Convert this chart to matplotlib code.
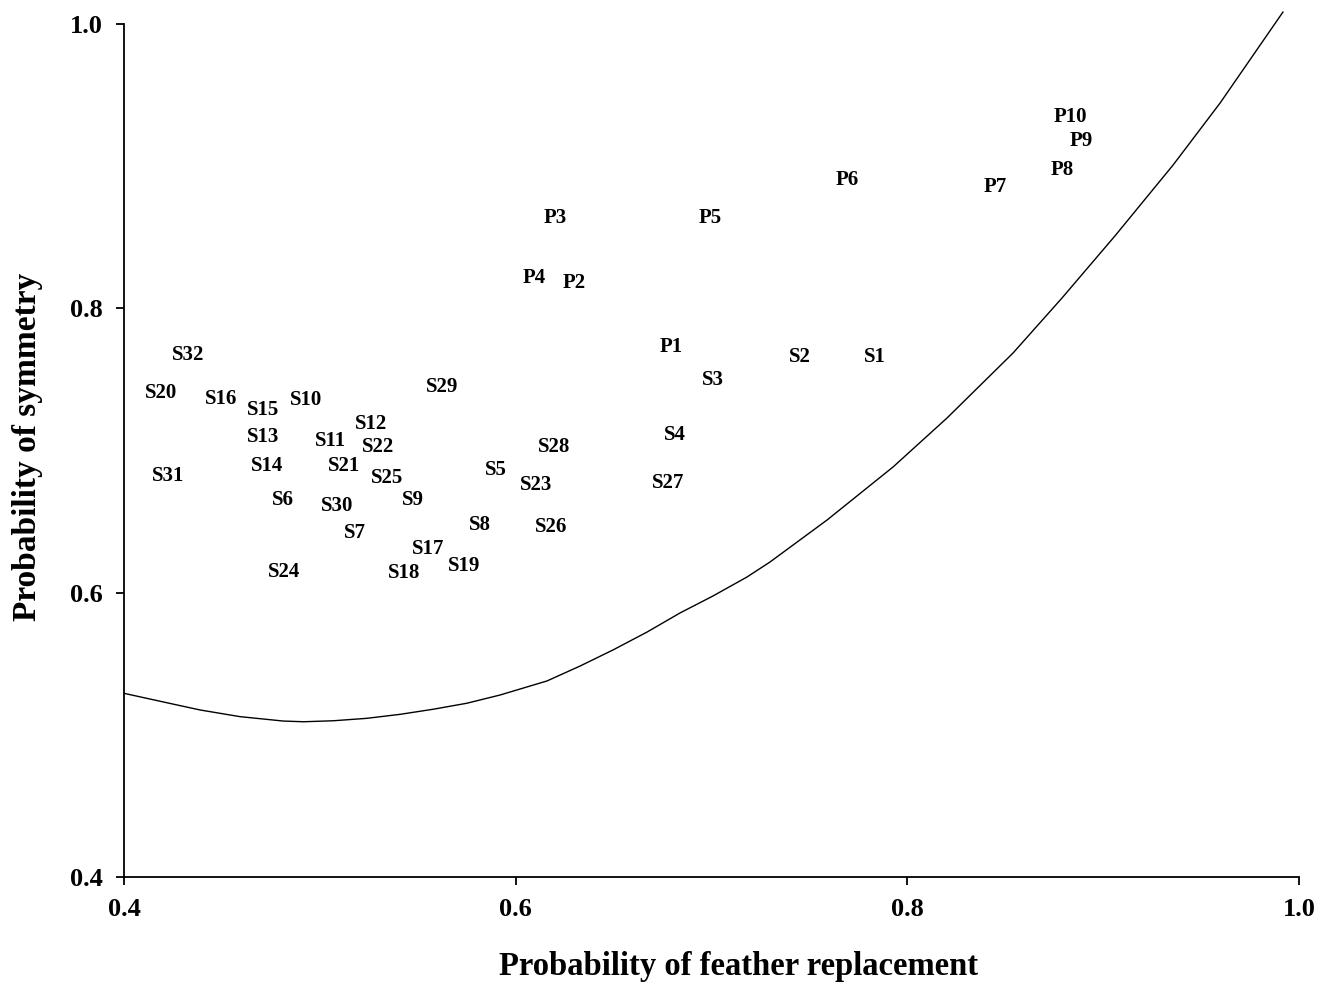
import matplotlib
matplotlib.use("Agg")
import matplotlib.pyplot as plt

labels = ["P10", "P9", "P8", "P7", "P6", "P5", "P3", "P4", "P2", "P1",
          "S2", "S1", "S3", "S4", "S27", "S28", "S23", "S26", "S5", "S8",
          "S19", "S18", "S17", "S9", "S29", "S25", "S22", "S12", "S11", "S21",
          "S30", "S7", "S10", "S15", "S16", "S13", "S14", "S6", "S24", "S20",
          "S32", "S31"]
x_repl = [0.8831, 0.8887, 0.8790, 0.8448, 0.7692, 0.6992, 0.6201, 0.6094, 0.6298, 0.6793,
          0.7452, 0.7835, 0.7008, 0.6814, 0.6778, 0.6196, 0.6104, 0.6180, 0.5900, 0.5818,
          0.5736, 0.5430, 0.5552, 0.5476, 0.5624, 0.5343, 0.5297, 0.5261, 0.5057, 0.5123,
          0.5088, 0.5180, 0.4929, 0.4710, 0.4495, 0.4710, 0.4730, 0.4812, 0.4817, 0.4189,
          0.4327, 0.4225]
y_sym = [0.9346, 0.9177, 0.8973, 0.8853, 0.8903, 0.8635, 0.8635, 0.8213, 0.8178, 0.7728,
         0.7658, 0.7658, 0.7496, 0.7109, 0.6771, 0.7025, 0.6757, 0.6462, 0.6863, 0.6476,
         0.6188, 0.6138, 0.6307, 0.6652, 0.7447, 0.6807, 0.7025, 0.7186, 0.7067, 0.6891,
         0.6610, 0.6420, 0.7355, 0.7285, 0.7362, 0.7095, 0.6891, 0.6652, 0.6146, 0.7404,
         0.7672, 0.6821]

curve_x = [0.4000, 0.4218, 0.4388, 0.4592, 0.4813, 0.4916, 0.5069, 0.5239, 0.5409,
           0.5579, 0.5750, 0.5920, 0.6160, 0.6329, 0.6497,
           0.6671, 0.6839, 0.7008, 0.7181, 0.7299, 0.7590, 0.7927, 0.8203, 0.8540,
           0.8790, 0.9060, 0.9357, 0.9597, 0.9918]
curve_y = [0.5292, 0.5226, 0.5175, 0.5128, 0.5097, 0.5092, 0.5099, 0.5116, 0.5144,
           0.5180, 0.5222, 0.5280, 0.5379, 0.5484, 0.5597,
           0.5723, 0.5857, 0.5977, 0.6110, 0.6216, 0.6511, 0.6884, 0.7229, 0.7686,
           0.8073, 0.8509, 0.9008, 0.9444, 1.0084]

ticks = [0.4, 0.6, 0.8, 1.0]
tick_labels = ["0.4", "0.6", "0.8", "1.0"]

plt.rcParams['font.family'] = ['Liberation Serif', 'DejaVu Serif']
plt.rcParams['font.weight'] = 'bold'

fig = plt.figure(figsize=(13.22, 9.89), dpi=100)
ax = fig.add_axes([124/1322, 1 - 877/989, (1299-124)/1322, (877-24)/989])

ax.plot(curve_x, curve_y, color='black', lw=1.0, clip_on=False)

for lab, xv, yv in zip(labels, x_repl, y_sym):
    ax.text(xv, yv, lab, ha='center', va='center', fontsize=15, fontweight='bold')

ax.set_xlim(0.4, 1.0)
ax.set_ylim(0.4, 1.0)
ax.set_xticks(ticks)
ax.set_xticklabels(tick_labels)
ax.set_yticks(ticks)
ax.set_yticklabels(tick_labels)
ax.tick_params(direction='out', length=6, width=1.3, labelsize=19)
ax.tick_params(axis='x', pad=9)
ax.tick_params(axis='y', pad=9)
for t in ax.get_xticklabels() + ax.get_yticklabels():
    t.set_fontweight('bold')
for s in ['top', 'right']:
    ax.spines[s].set_visible(False)
for s in ['left', 'bottom']:
    ax.spines[s].set_linewidth(1.3)

fig.text(738.5/1322, 1 - 975/989, 'Probability of feather replacement',
         fontsize=23.5, fontweight='bold', ha='center', va='baseline')
fig.text(28/1322, 1 - 447/989, 'Probability of symmetry', rotation=90,
         fontsize=24, fontweight='bold', ha='center', va='center')

fig.savefig('out.png', dpi=100, facecolor='white')
